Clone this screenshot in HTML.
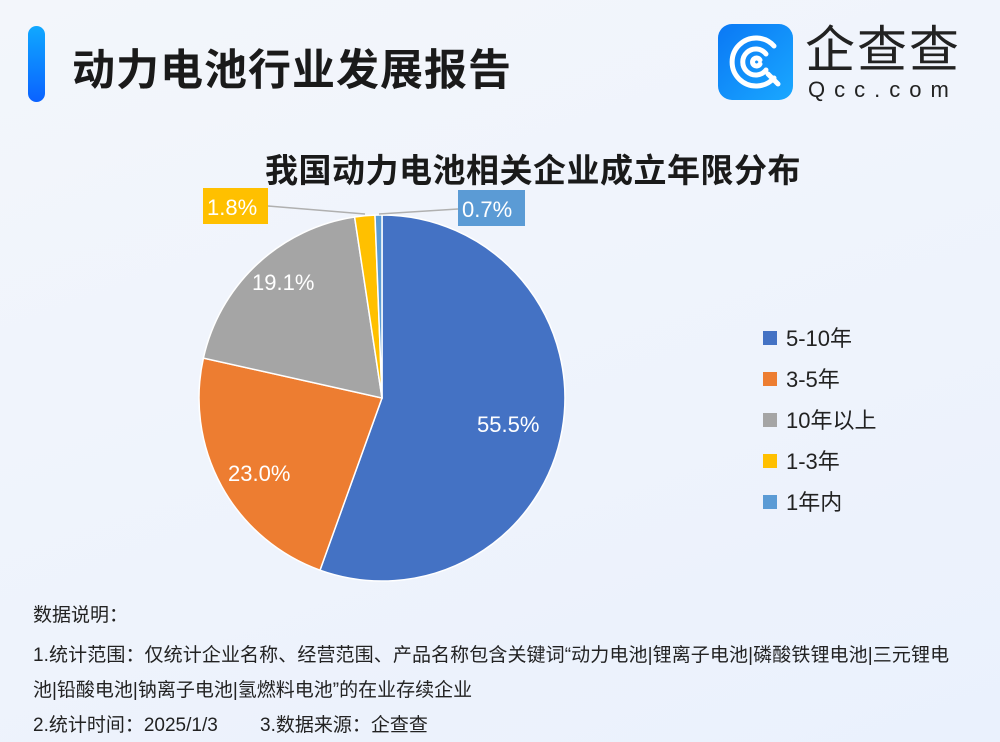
<!DOCTYPE html>
<html><head><meta charset="utf-8"><style>
html,body{margin:0;padding:0}
body{width:1000px;height:742px;overflow:hidden;background:linear-gradient(160deg,#f3f6fb 0%,#eef3fc 60%,#eaf1fd 100%);font-family:"Liberation Sans","Noto Sans CJK SC",sans-serif;position:relative}
.t{position:absolute;white-space:nowrap}
</style></head><body>
<div style="position:absolute;left:28px;top:26px;width:17px;height:76px;border-radius:9px;background:linear-gradient(180deg,#10a8ff,#0a62ff)"></div>
<div class="t" style="left:72px;top:36px;font-size:43px;font-weight:bold;color:#1a1a1a;letter-spacing:1px">动力电池行业发展报告</div>
<div style="position:absolute;left:718px;top:24px;width:75px;height:76px;border-radius:14px;background:linear-gradient(135deg,#0a78f5,#1aa8ff)">
<svg width="75" height="76" viewBox="0 0 75 76"><g fill="none" stroke="#fff" stroke-width="5" stroke-linecap="round"><path d="M56 22 A24 24 0 1 0 56 54"/><path d="M48 30 A13 13 0 1 0 48 46"/><path d="M42 36 A4 4 0 1 0 42 40"/><path d="M50 50 L60 60"/></g></svg></div>
<div class="t" style="left:805px;top:20px;font-size:50px;line-height:60px;color:#222;letter-spacing:2px">企查查</div>
<div class="t" style="left:808px;top:78px;font-size:22px;line-height:24px;color:#222;letter-spacing:9px">Qcc.com</div>
<div class="t" style="left:265px;top:144px;font-size:33px;font-weight:bold;color:#1a1a1a;letter-spacing:0.5px">我国动力电池相关企业成立年限分布</div>
<svg style="position:absolute;left:0;top:0" width="1000" height="742">
<g stroke="#fff" stroke-width="1.5">
<path d="M382 398 L382 215 A183 183 0 1 1 320 570.2 Z" fill="#4472c4"/>
<path d="M382 398 L320 570.2 A183 183 0 0 1 203.4 358.1 Z" fill="#ed7d31"/>
<path d="M382 398 L203.4 358.1 A183 183 0 0 1 354.6 217 Z" fill="#a5a5a5"/>
<path d="M382 398 L354.6 217 A183 183 0 0 1 375 215.1 Z" fill="#ffc000"/>
<path d="M382 398 L375 215.1 A183 183 0 0 1 382 215 Z" fill="#5b9bd5"/>
</g>
<g stroke="#b0b0b0" stroke-width="1.5" fill="none"><path d="M268 206 L365 214"/><path d="M379 214 L458 209"/></g>
<rect x="203" y="188" width="65" height="36" fill="#ffc000"/>
<rect x="458" y="190" width="67" height="36" fill="#5b9bd5"/>
<g font-size="22" fill="#fff" font-family="Liberation Sans,sans-serif">
<text x="207" y="215">1.8%</text><text x="462" y="217">0.7%</text>
<text x="252" y="290">19.1%</text><text x="228" y="481">23.0%</text><text x="477" y="432">55.5%</text>
</g>
<g font-size="22" fill="#222">
<rect x="763" y="331" width="14" height="14" fill="#4472c4"/><text x="786" y="346">5-10年</text>
<rect x="763" y="372" width="14" height="14" fill="#ed7d31"/><text x="786" y="387">3-5年</text>
<rect x="763" y="413" width="14" height="14" fill="#a5a5a5"/><text x="786" y="428">10年以上</text>
<rect x="763" y="454" width="14" height="14" fill="#ffc000"/><text x="786" y="469">1-3年</text>
<rect x="763" y="495" width="14" height="14" fill="#5b9bd5"/><text x="786" y="510">1年内</text>
</g>
</svg>
<div class="t" style="left:33px;top:600px;font-size:19px;color:#222">数据说明：</div>
<div class="t" style="left:33px;top:640px;font-size:19px;color:#222;letter-spacing:0.1px">1.统计范围：仅统计企业名称、经营范围、产品名称包含关键词“动力电池|锂离子电池|磷酸铁锂电池|三元锂电</div>
<div class="t" style="left:33px;top:675px;font-size:19px;color:#222">池|铅酸电池|钠离子电池|氢燃料电池”的在业存续企业</div>
<div class="t" style="left:33px;top:710px;font-size:19px;color:#222">2.统计时间：2025/1/3&nbsp;&nbsp;&nbsp;&nbsp;&nbsp;&nbsp;&nbsp;&nbsp;3.数据来源：企查查</div>
</body></html>
